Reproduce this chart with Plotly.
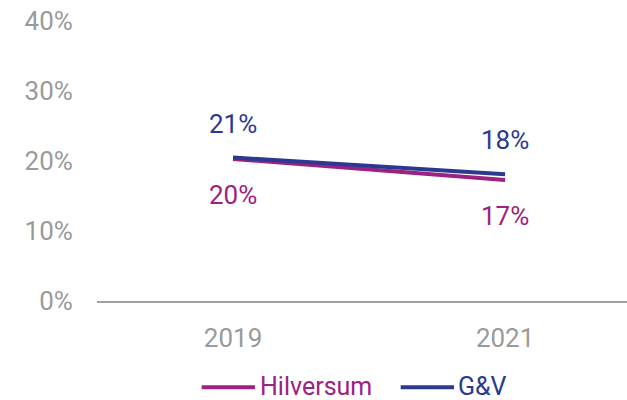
import plotly.graph_objects as go

years = ["2019", "2021"]
hilversum = [20.3, 17.3]
gv = [20.5, 18.1]
y_ticks = [0, 10, 20, 30, 40]
y_tick_labels = ["0%", "10%", "20%", "30%", "40%"]

purple = "#9B2283"
navy = "#2B3990"
grey = "#9A9A9A"
font = "Roboto"
fs = 26

fig = go.Figure()
fig.add_trace(go.Scatter(x=years, y=hilversum, mode="lines", name="Hilversum",
                         line=dict(color=purple, width=4), showlegend=False))
fig.add_trace(go.Scatter(x=years, y=gv, mode="lines", name="G&V",
                         line=dict(color=navy, width=4), showlegend=False))

# data labels (category index used as x position on the category axis)
for i, v in enumerate(gv):
    fig.add_annotation(x=i, y=v, xref="x", yref="y", text=f"{int(v + 0.5)}%",
                       showarrow=False, yshift=34,
                       font=dict(color=navy, size=fs, family=font))
for i, v in enumerate(hilversum):
    fig.add_annotation(x=i, y=v, xref="x", yref="y", text=f"{int(v + 0.5)}%",
                       showarrow=False, yshift=-36,
                       font=dict(color=purple, size=fs, family=font))

# manual legend
legend_items = [("Hilversum", purple, 0.1975, 0.298, 0.305),
                ("G&V", navy, 0.573, 0.6736, 0.679)]
ly = -0.3078
for name, col, x0, x1, tx in legend_items:
    fig.add_shape(type="line", xref="paper", yref="paper", x0=x0, x1=x1,
                  y0=ly, y1=ly, line=dict(color=col, width=4))
    fig.add_annotation(xref="paper", yref="paper", x=tx, y=-0.359, text=name,
                       showarrow=False, xanchor="left", yanchor="bottom",
                       borderpad=0,
                       font=dict(color=col, size=fs - 1, family=font))

fig.update_layout(
    width=627, height=400,
    margin=dict(l=97, r=0, t=20.5, b=98.5, autoexpand=False),
    paper_bgcolor="white", plot_bgcolor="white",
    font=dict(family=font, size=fs, color=grey),
    showlegend=False,
)
fig.update_xaxes(type="category", range=[-0.5, 1.448], showgrid=False,
                 showline=True, linecolor="#A0A0A0", linewidth=2,
                 ticks="outside", ticklen=13, tickcolor="rgba(0,0,0,0)",
                 tickfont=dict(size=fs, color=grey, family=font), zeroline=False)
fig.update_yaxes(range=[0, 40], tickvals=y_ticks, ticktext=y_tick_labels,
                 showgrid=False, showline=False, zeroline=False,
                 ticks="outside", ticklen=18, tickcolor="rgba(0,0,0,0)",
                 ticklabeloverflow="allow",
                 tickfont=dict(size=fs, color=grey, family=font))

fig.write_html(
    "out.html",
    config={"displayModeBar": False},
    post_script="document.body.style.margin='0';document.body.style.overflow='hidden';",
)
